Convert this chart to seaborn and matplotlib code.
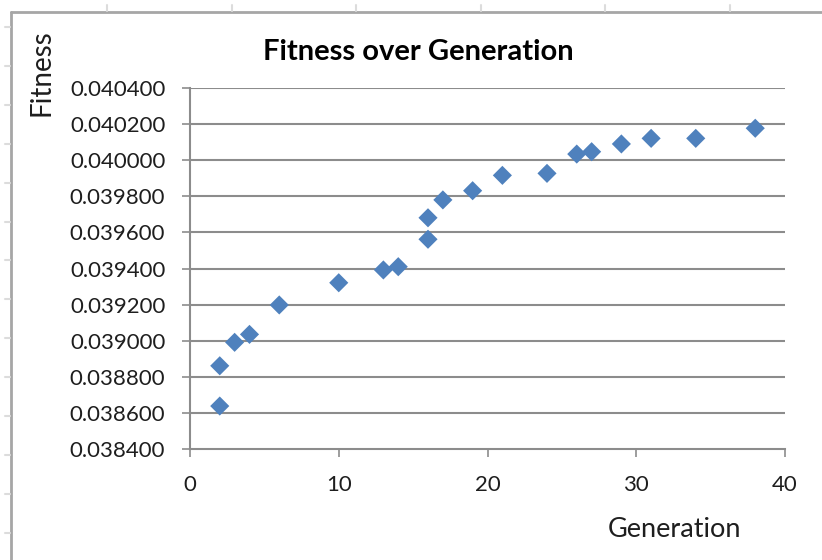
import numpy as np
import pandas as pd
import matplotlib
matplotlib.use("Agg")
import matplotlib.pyplot as plt
from matplotlib.lines import Line2D
import seaborn as sns

# Fitness of the best individual per generation
generation = [2, 2, 3, 4, 6, 10, 13, 14, 16, 16, 17, 19, 21, 24, 26, 27, 29, 31, 34, 38]
fitness = [0.038638, 0.038861, 0.038991, 0.039035, 0.039198, 0.039321, 0.039392,
           0.039410, 0.039562, 0.039681, 0.039780, 0.039831, 0.039916, 0.039927,
           0.040034, 0.040047, 0.040090, 0.040121, 0.040121, 0.040177]

x_ticks = [0, 10, 20, 30, 40]
y_ticks = [0.0384, 0.0386, 0.0388, 0.0390, 0.0392, 0.0394, 0.0396, 0.0398,
           0.0400, 0.0402, 0.0404]

df = pd.DataFrame({"Generation": generation, "Fitness": fitness})

sns.set_theme(style="white")
plt.rcParams["font.family"] = ["Lato", "DejaVu Sans"]

W, H = 822, 560
fig = plt.figure(figsize=(W / 100, H / 100), dpi=100)
ax = fig.add_axes([190 / W, 1 - 449 / H, (785 - 190) / W, (449 - 88) / H])

grid_c = "#8c8c8c"
for v in y_ticks[1:]:
    ax.axhline(v, color=grid_c, lw=1.5, zorder=1)

sns.scatterplot(data=df, x="Generation", y="Fitness", marker="D", s=95,
                color="#4F81BD", edgecolor="none", ax=ax, zorder=3, legend=False)

ax.set_xlim(0, 40)
ax.set_ylim(0.0384, 0.0404)
ax.set_xticks(x_ticks)
ax.set_yticks(y_ticks)
ax.set_xticklabels([str(t) for t in x_ticks])
ax.set_yticklabels([f"{t:.6f}" for t in y_ticks])
ax.set_xlabel("")
ax.set_ylabel("")

for side in ("top", "right"):
    ax.spines[side].set_visible(False)
for side in ("left", "bottom"):
    ax.spines[side].set_color(grid_c)
    ax.spines[side].set_linewidth(1.5)

ax.tick_params(axis="both", which="major", length=5.8, width=1.2, color=grid_c,
               labelsize=16, labelcolor="#1e1e1e", direction="out")
ax.tick_params(axis="y", pad=12)
ax.tick_params(axis="x", pad=13)
ax.tick_params(left=True, bottom=True)

# Titles placed like the spreadsheet chart
fig.text(418 / W, 1 - 60 / H, "Fitness over Generation", ha="center", va="baseline",
         fontsize=21, fontweight="bold", color="#000000")
fig.text(50 / W, 1 - 73 / H, "Fitness", ha="center", va="baseline", rotation=90,
         rotation_mode="anchor", fontsize=20, color="#1e1e1e")
fig.text(674 / W, 1 - 537 / H, "Generation", ha="center", va="baseline",
         fontsize=19.5, color="#1e1e1e")

# Chart frame and the sheet's cell marks around it
frame_c = "#a6a6a6"
fig.add_artist(Line2D([11 / W, 11 / W], [0, 1 - 12 / H], transform=fig.transFigure,
                      color=frame_c, lw=2))
fig.add_artist(Line2D([11 / W, 1], [1 - 12 / H, 1 - 12 / H], transform=fig.transFigure,
                      color=frame_c, lw=2))
cell_c = "#dcdcdc"
for xp in np.arange(107, W, 124.6):
    fig.add_artist(Line2D([xp / W, xp / W], [1 - 5 / H, 1 - 11 / H],
                          transform=fig.transFigure, color=cell_c, lw=1.5))
for yp in np.arange(27, H, 38.9):
    fig.add_artist(Line2D([5 / W, 10 / W], [1 - yp / H, 1 - yp / H],
                          transform=fig.transFigure, color=cell_c, lw=1.5))

fig.savefig("out.png", dpi=100)
